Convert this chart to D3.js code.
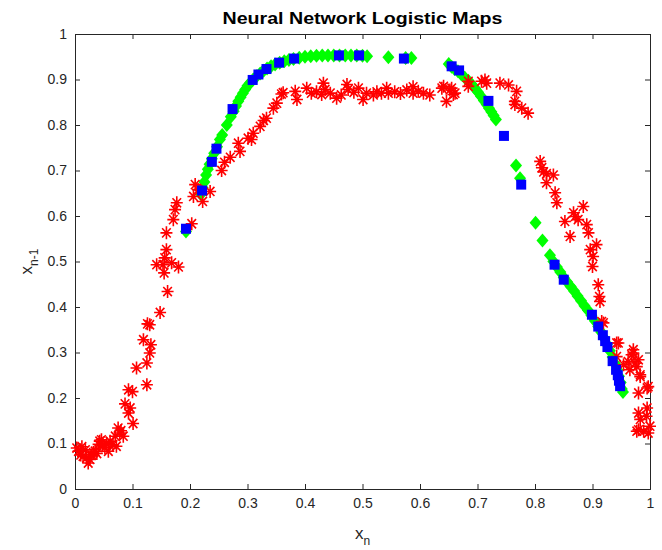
<!DOCTYPE html>
<html>
<head>
<meta charset="utf-8">
<script src="https://cdn.jsdelivr.net/npm/d3@7"></script>
<style>
  body { margin: 0; background: #fff; }
  text { font-family: "Liberation Sans", Arial, sans-serif; }
</style>
</head>
<body>
<div id="chart"></div>
<script>
// red asterisks: [x_n, x_n-1]
const redX = [0.003,0.006,0.010,0.012,0.014,0.018,0.020,0.023,0.026,0.029,0.032,0.035,0.038,0.041,0.043,0.046,0.048,0.052,0.055,0.058,
  0.061,0.066,0.070,0.072,0.075,0.078,0.080,0.084,0.087,0.093,0.093,0.096,0.100,0.101,0.107,0.119,0.125,0.125,0.126,0.130,
  0.130,0.132,0.142,0.148,0.153,0.155,0.156,0.159,0.159,0.161,0.168,0.171,0.174,0.177,0.180,0.203,0.206,0.209,0.214,0.222,
  0.235,0.255,0.260,0.270,0.287,0.284,0.301,0.307,0.310,0.322,0.328,0.333,0.345,0.351,0.359,0.362,0.383,0.386,0.403,0.411,
  0.420,0.429,0.432,0.435,0.444,0.455,0.463,0.473,0.475,0.485,0.493,0.501,0.507,0.519,0.525,0.533,0.542,0.545,0.556,0.566,
  0.577,0.588,0.588,0.597,0.606,0.617,0.638,0.641,0.646,0.652,0.655,0.658,0.661,0.684,0.684,0.707,0.713,0.716,0.739,0.754,
  0.768,0.765,0.765,0.777,0.788,0.809,0.812,0.815,0.820,0.832,0.820,0.835,0.838,0.884,0.867,0.852,0.870,0.875,0.890,0.861,
  0.893,0.907,0.896,0.901,0.900,0.910,0.912,0.913,0.916,0.919,0.942,0.945,0.942,0.954,0.962,0.965,0.968,0.971,0.971,0.974,
  0.977,0.980,0.983,0.983,0.980,0.995,0.997,0.980,0.995,0.983,0.994,0.977,0.989,0.997,0.980,1.000];
const redY = [0.090,0.083,0.075,0.093,0.072,0.086,0.068,0.057,0.065,0.075,0.080,0.083,0.078,0.098,0.105,0.108,0.095,0.091,0.100,0.083,
  0.105,0.097,0.116,0.094,0.134,0.123,0.128,0.116,0.187,0.167,0.218,0.178,0.214,0.144,0.266,0.328,0.277,0.229,0.363,0.299,
  0.361,0.317,0.493,0.388,0.493,0.475,0.508,0.526,0.563,0.434,0.497,0.592,0.614,0.629,0.488,0.583,0.643,0.669,0.658,0.632,
  0.654,0.700,0.718,0.729,0.742,0.760,0.771,0.768,0.782,0.797,0.810,0.815,0.837,0.848,0.868,0.871,0.874,0.856,0.881,0.870,
  0.873,0.867,0.892,0.878,0.870,0.859,0.866,0.889,0.878,0.872,0.881,0.856,0.870,0.866,0.873,0.870,0.881,0.870,0.873,0.869,
  0.877,0.884,0.870,0.874,0.870,0.866,0.881,0.885,0.852,0.877,0.881,0.867,0.870,0.896,0.885,0.896,0.899,0.892,0.892,0.888,
  0.874,0.852,0.845,0.837,0.826,0.720,0.706,0.697,0.693,0.690,0.673,0.651,0.629,0.621,0.607,0.588,0.599,0.592,0.581,0.555,
  0.563,0.537,0.526,0.511,0.489,0.449,0.423,0.412,0.368,0.365,0.321,0.321,0.291,0.273,0.280,0.262,0.295,0.299,0.306,0.277,
  0.269,0.284,0.251,0.247,0.211,0.222,0.225,0.167,0.178,0.153,0.160,0.127,0.127,0.123,0.130,0.138];

// green diamonds
const greenX = [0.193,0.219,0.222,0.225,0.228,0.231,0.234,0.238,0.242,0.247,0.252,0.256,0.264,0.271,0.276,0.280,0.284,0.288,0.292,0.296,
  0.300,0.305,0.310,0.316,0.322,0.328,0.334,0.341,0.348,0.356,0.364,0.372,0.380,0.390,0.400,0.410,0.420,0.430,0.440,0.450,
  0.460,0.470,0.480,0.490,0.500,0.508,0.545,0.575,0.585,
  0.650,0.655,0.660,0.666,0.672,0.678,0.684,0.690,0.696,0.701,0.706,0.711,0.716,0.720,0.724,0.728,0.732,0.767,0.774,0.801,
  0.813,0.826,0.832,0.838,0.844,0.850,0.856,0.862,0.868,0.874,0.880,0.886,0.892,0.898,0.904,0.910,0.915,0.920,0.925,0.930,
  0.935,0.939,0.943,0.946,0.949,0.951,0.953];
const greenY = [0.566,0.648,0.662,0.675,0.690,0.703,0.714,0.726,0.738,0.752,0.768,0.778,0.800,0.818,0.830,0.842,0.852,0.861,0.870,0.878,
  0.886,0.893,0.900,0.907,0.913,0.919,0.924,0.929,0.933,0.937,0.940,0.943,0.945,0.948,0.950,0.951,0.952,0.953,0.953,0.953,
  0.953,0.953,0.953,0.953,0.952,0.951,0.949,0.947,0.947,
  0.934,0.928,0.923,0.918,0.911,0.904,0.897,0.889,0.880,0.872,0.863,0.854,0.845,0.837,0.829,0.821,0.812,0.711,0.683,0.585,
  0.546,0.514,0.500,0.488,0.477,0.465,0.455,0.445,0.435,0.424,0.414,0.403,0.393,0.382,0.370,0.357,0.345,0.332,0.318,0.304,
  0.290,0.276,0.262,0.248,0.234,0.220,0.213];

// blue squares
const blueX = [0.193,0.221,0.238,0.246,0.274,0.309,0.319,0.333,0.355,0.381,0.459,0.494,0.572,0.655,0.668,0.719,0.746,0.776,0.834,0.850,
  0.899,0.910,0.918,0.922,0.926,0.935,0.941,0.944,0.946,0.948];
const blueY = [0.572,0.656,0.719,0.748,0.835,0.899,0.911,0.923,0.937,0.946,0.953,0.953,0.946,0.929,0.920,0.853,0.776,0.669,0.493,0.460,
  0.383,0.357,0.338,0.325,0.312,0.281,0.262,0.250,0.238,0.226];

const xTicks = [0,0.1,0.2,0.3,0.4,0.5,0.6,0.7,0.8,0.9,1];
const yTicks = [0,0.1,0.2,0.3,0.4,0.5,0.6,0.7,0.8,0.9,1];

const margin = {top: 34, right: 12, bottom: 61, left: 75},
    width = 662 - margin.left - margin.right,
    height = 550 - margin.top - margin.bottom;

const svg = d3.select("#chart")
    .append("svg")
    .attr("width", 662)
    .attr("height", 550);

const g = svg.append("g")
    .attr("transform", `translate(${margin.left},${margin.top})`);

const x = d3.scaleLinear().domain([0, 1]).range([0, width]);
const y = d3.scaleLinear().domain([0, 1]).range([height, 0]);

const axisColor = "#262626";
const fmt = d => d === 0 || d === 1 ? String(d) : d.toFixed(1);

// axes, ticks point inward like matlab
const xAxis = g.append("g")
    .attr("transform", `translate(0,${height})`)
    .call(d3.axisBottom(x).tickValues(xTicks).tickFormat(fmt).tickSize(-5).tickPadding(9));
const yAxis = g.append("g")
    .call(d3.axisLeft(y).tickValues(yTicks).tickFormat(fmt).tickSize(-5).tickPadding(8));
g.append("g")
    .call(d3.axisTop(x).tickValues(xTicks).tickFormat("").tickSize(-5));
g.append("g")
    .attr("transform", `translate(${width},0)`)
    .call(d3.axisRight(y).tickValues(yTicks).tickFormat("").tickSize(-5));

g.selectAll(".domain").attr("stroke", axisColor);
g.selectAll(".tick line").attr("stroke", axisColor);
g.selectAll(".tick text")
    .attr("fill", axisColor)
    .style("font-size", "14px")
    .style("font-family", "'Liberation Sans', Arial, sans-serif");

// markers
const red = d3.range(redX.length).map(i => ({x: redX[i], y: redY[i]}));
const green = d3.range(greenX.length).map(i => ({x: greenX[i], y: greenY[i]}));
const blue = d3.range(blueX.length).map(i => ({x: blueX[i], y: blueY[i]}));

const plot = g.append("g");

plot.selectAll(".green")
    .data(green)
    .enter()
    .append("path")
    .attr("class", "green")
    .attr("d", "M0,-7L6,0L0,7L-6,0Z")
    .attr("transform", d => `translate(${x(d.x)},${y(d.y)})`)
    .attr("fill", "#00ff00");

plot.selectAll(".red")
    .data(red)
    .enter()
    .append("path")
    .attr("class", "red")
    .attr("d", "M-6,0H6M0,-6.5V6.5M-4.3,-4.6L4.3,4.6M-4.3,4.6L4.3,-4.6")
    .attr("transform", d => `translate(${x(d.x)},${y(d.y)})`)
    .attr("stroke", "#ff0000")
    .attr("stroke-width", 1.6)
    .attr("fill", "none");

plot.selectAll(".blue")
    .data(blue)
    .enter()
    .append("rect")
    .attr("class", "blue")
    .attr("x", d => x(d.x) - 5)
    .attr("y", d => y(d.y) - 5)
    .attr("width", 10)
    .attr("height", 10)
    .attr("fill", "#0000ff");

// title and labels
svg.append("text")
    .attr("x", margin.left + width / 2)
    .attr("y", 24)
    .attr("text-anchor", "middle")
    .attr("textLength", 280)
    .attr("lengthAdjust", "spacingAndGlyphs")
    .style("font-size", "16.5px")
    .style("font-weight", "bold")
    .attr("fill", "#000")
    .text("Neural Network Logistic Maps");

const xLabel = svg.append("text")
    .attr("x", margin.left + width / 2)
    .attr("y", 539)
    .attr("text-anchor", "middle")
    .style("font-size", "17px")
    .attr("fill", axisColor);
xLabel.append("tspan").text("x");
xLabel.append("tspan").attr("dy", 6).style("font-size", "12px").text("n");

const yLabel = svg.append("text")
    .attr("transform", `translate(32,${margin.top + height / 2}) rotate(-90)`)
    .attr("text-anchor", "middle")
    .style("font-size", "17px")
    .attr("fill", axisColor);
yLabel.append("tspan").text("x");
yLabel.append("tspan").attr("dy", 6).style("font-size", "12px").text("n-1");
</script>
</body>
</html>
